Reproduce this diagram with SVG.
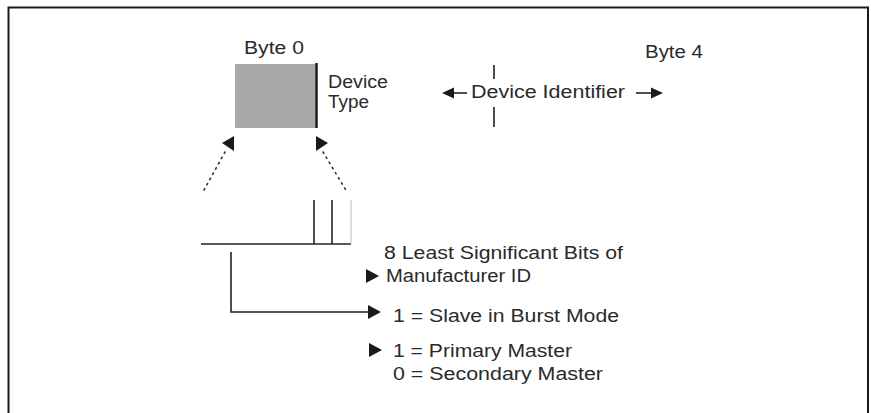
<svg xmlns="http://www.w3.org/2000/svg" width="871" height="413" viewBox="0 0 871 413">
<style>
.t{font-family:"Liberation Sans",Arial,sans-serif;font-size:17.5px;fill:#2a2a2a}
.ln{stroke:#222;fill:none;stroke-width:1.6}
.dot{stroke:#333;fill:none;stroke-width:1.6;stroke-dasharray:1.5 4.5;stroke-linecap:round}
.ah{fill:#1a1a1a}
</style>
<defs>
<path id="ahL" d="M0,0 L-13,-7 L-13,7 Z"/>
<path id="ahS" d="M0,0 L-12,-5.5 L-12,5.5 Z"/>
</defs>
<rect x="0" y="0" width="871" height="413" fill="#fff"/>
<path d="M8.5,413 V7.5 H868 V413" fill="none" stroke="#1a1a1a" stroke-width="2"/>

<g id="byte0">
<rect x="235" y="64" width="81" height="64" fill="#a8a8aa"/>
<line x1="316.5" y1="63" x2="316.5" y2="128" stroke="#1e1e1e" stroke-width="2.5"/>
<text class="t" x="244" y="54" textLength="60" lengthAdjust="spacingAndGlyphs">Byte 0</text>
</g>
<g id="device-type">
<text class="t" x="328" y="88" textLength="60" lengthAdjust="spacingAndGlyphs">Device</text>
<text class="t" x="328" y="108" textLength="41" lengthAdjust="spacingAndGlyphs">Type</text>
</g>
<g id="byte4">
<text class="t" x="645" y="58" textLength="58" lengthAdjust="spacingAndGlyphs">Byte 4</text>
</g>
<g id="device-identifier">
<text class="t" x="471" y="98" textLength="154" lengthAdjust="spacingAndGlyphs">Device Identifier</text>
</g>
<g id="bitfield">
<line class="ln" x1="201" y1="244" x2="351" y2="244" stroke-width="2"/>
<line class="ln" x1="314" y1="200" x2="314" y2="244"/>
<line class="ln" x1="332" y1="200" x2="332" y2="244"/>
<line x1="351" y1="200" x2="351" y2="244" stroke="#c8c8c8" stroke-width="1.2"/>
</g>
<g id="manufacturer">
<text class="t" x="384" y="259" textLength="239" lengthAdjust="spacingAndGlyphs">8 Least Significant Bits of</text>
<text class="t" x="386" y="282" textLength="145" lengthAdjust="spacingAndGlyphs">Manufacturer ID</text>
</g>
<g id="burst">
<text class="t" x="393" y="322" textLength="226" lengthAdjust="spacingAndGlyphs">1 = Slave in Burst Mode</text>
</g>
<g id="master">
<text class="t" x="393" y="357" textLength="179" lengthAdjust="spacingAndGlyphs">1 = Primary Master</text>
<text class="t" x="393" y="380" textLength="210" lengthAdjust="spacingAndGlyphs">0 = Secondary Master</text>
</g>

<g id="connectors">
<line class="ln" x1="494" y1="65" x2="494" y2="79"/>
<line class="ln" x1="494" y1="107" x2="494" y2="127"/>
<line class="ln" x1="454" y1="93" x2="467" y2="93" stroke-width="2"/>
<use href="#ahS" class="ah" transform="translate(442,93) rotate(180)"/>
<line class="ln" x1="636" y1="93" x2="651" y2="93" stroke-width="2"/>
<use href="#ahS" class="ah" transform="translate(663,93)"/>
<line class="dot" x1="225" y1="152" x2="204" y2="190"/>
<line class="dot" x1="323" y1="152" x2="347" y2="192"/>
<polygon class="ah" points="222,143 234,136 234,151"/>
<polygon class="ah" points="328,143 316,136 316,151"/>
<path class="ln" d="M231,252 V312 H368"/>
<use href="#ahL" class="ah" transform="translate(381,312)"/>
<use href="#ahL" class="ah" transform="translate(379,276)"/>
<use href="#ahL" class="ah" transform="translate(382,350)"/>
</g>
</svg>
